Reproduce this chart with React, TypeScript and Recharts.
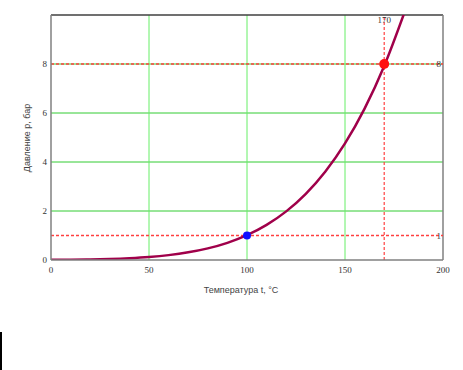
import React from 'react';
import { LineChart, Line, XAxis, YAxis, CartesianGrid, ReferenceLine, ReferenceDot } from 'recharts';

const temps = [0, 10, 20, 30, 40, 50, 60, 70, 80, 90, 100, 110, 120, 130, 140, 150, 160, 170, 180];
const pressures = [0.006, 0.012, 0.023, 0.042, 0.074, 0.123, 0.199, 0.312, 0.474, 0.701, 1.013, 1.433, 1.985, 2.701, 3.614, 4.76, 6.18, 7.92, 10.03];
const xTicks = [0, 50, 100, 150, 200];
const yTicks = [0, 2, 4, 6, 8];
const markT = 170;
const markP = 8;
const baseT = 100;
const baseP = 1;

const data = temps.map((t, i) => ({ t, p: pressures[i] }));

const serif = '"Liberation Serif", "DejaVu Serif", serif';
const tickFont = { fontFamily: serif, fontSize: 9, fill: '#333' };
const labelFont = { fontFamily: '"Liberation Sans", Arial, sans-serif', fontSize: 9, fill: '#444' };

const RightLabel = (props: any) => {
  const vb = props.viewBox || {};
  return (
    <text x={vb.x + vb.width - 2} y={vb.y} dy={3} textAnchor="end" fontFamily={serif} fontSize={9} fill="#333">
      {props.value}
    </text>
  );
};

const TopLabel = (props: any) => {
  const vb = props.viewBox || {};
  return (
    <text x={vb.x} y={vb.y} dy={8} textAnchor="middle" fontFamily={serif} fontSize={9} fill="#333">
      {props.value}
    </text>
  );
};

export default function App() {
  return (
    <div style={{ position: 'absolute', left: 0, top: 0, width: 463, height: 370, background: '#fff' }}>
      <LineChart width={463} height={370} data={data} margin={{ top: 15, right: 20, left: 21, bottom: 90 }}>
        <CartesianGrid vertical={false} horizontal={true} stroke="#33cc33" strokeWidth={1} horizontalValues={[2, 4, 6, 8]} />
        <CartesianGrid vertical={true} horizontal={false} stroke="#66ee66" strokeWidth={1} verticalValues={[50, 100, 150]} />
        <XAxis
          type="number"
          dataKey="t"
          domain={[0, 200]}
          ticks={xTicks}
          height={20}
          tickLine={false}
          tickMargin={1}
          tick={tickFont}
          axisLine={{ stroke: '#808080', strokeWidth: 1.5 }}
          allowDataOverflow
        />
        <YAxis
          type="number"
          domain={[0, 10]}
          ticks={yTicks}
          width={30}
          tickLine={false}
          tickMargin={-2}
          tick={tickFont}
          axisLine={{ stroke: '#808080', strokeWidth: 1.5 }}
          allowDataOverflow
        />
        <ReferenceLine y={10} stroke="#404040" strokeWidth={1.5} />
        <ReferenceLine x={200} stroke="#808080" strokeWidth={1.5} />
        <ReferenceLine y={baseP} stroke="#ff4040" strokeDasharray="3 2" strokeWidth={1.5} label={<RightLabel value={String(baseP)} />} />
        <ReferenceLine y={markP} stroke="#ff4040" strokeDasharray="3 2" strokeWidth={1.5} label={<RightLabel value={String(markP)} />} />
        <ReferenceLine x={markT} stroke="#ff4040" strokeDasharray="3 2" strokeWidth={1.2} label={<TopLabel value={String(markT)} />} />
        <Line
          type="monotone"
          dataKey="p"
          stroke="#a0004a"
          strokeWidth={2.5}
          dot={false}
          isAnimationActive={false}
        />
        <ReferenceDot x={baseT} y={baseP} r={4} fill="#1010ff" stroke="none" />
        <ReferenceDot x={markT} y={markP} r={5} fill="#ff1010" stroke="none" />
        <text x={241} y={293} textAnchor="middle" {...labelFont}>Температура t, °C</text>
        <text x={30} y={138} textAnchor="middle" transform="rotate(-90 30 138)" {...labelFont}>Давление p, бар</text>
      </LineChart>
      <div style={{ position: 'absolute', left: 0, top: 332, width: 2, height: 38, background: '#000' }} />
    </div>
  );
}
